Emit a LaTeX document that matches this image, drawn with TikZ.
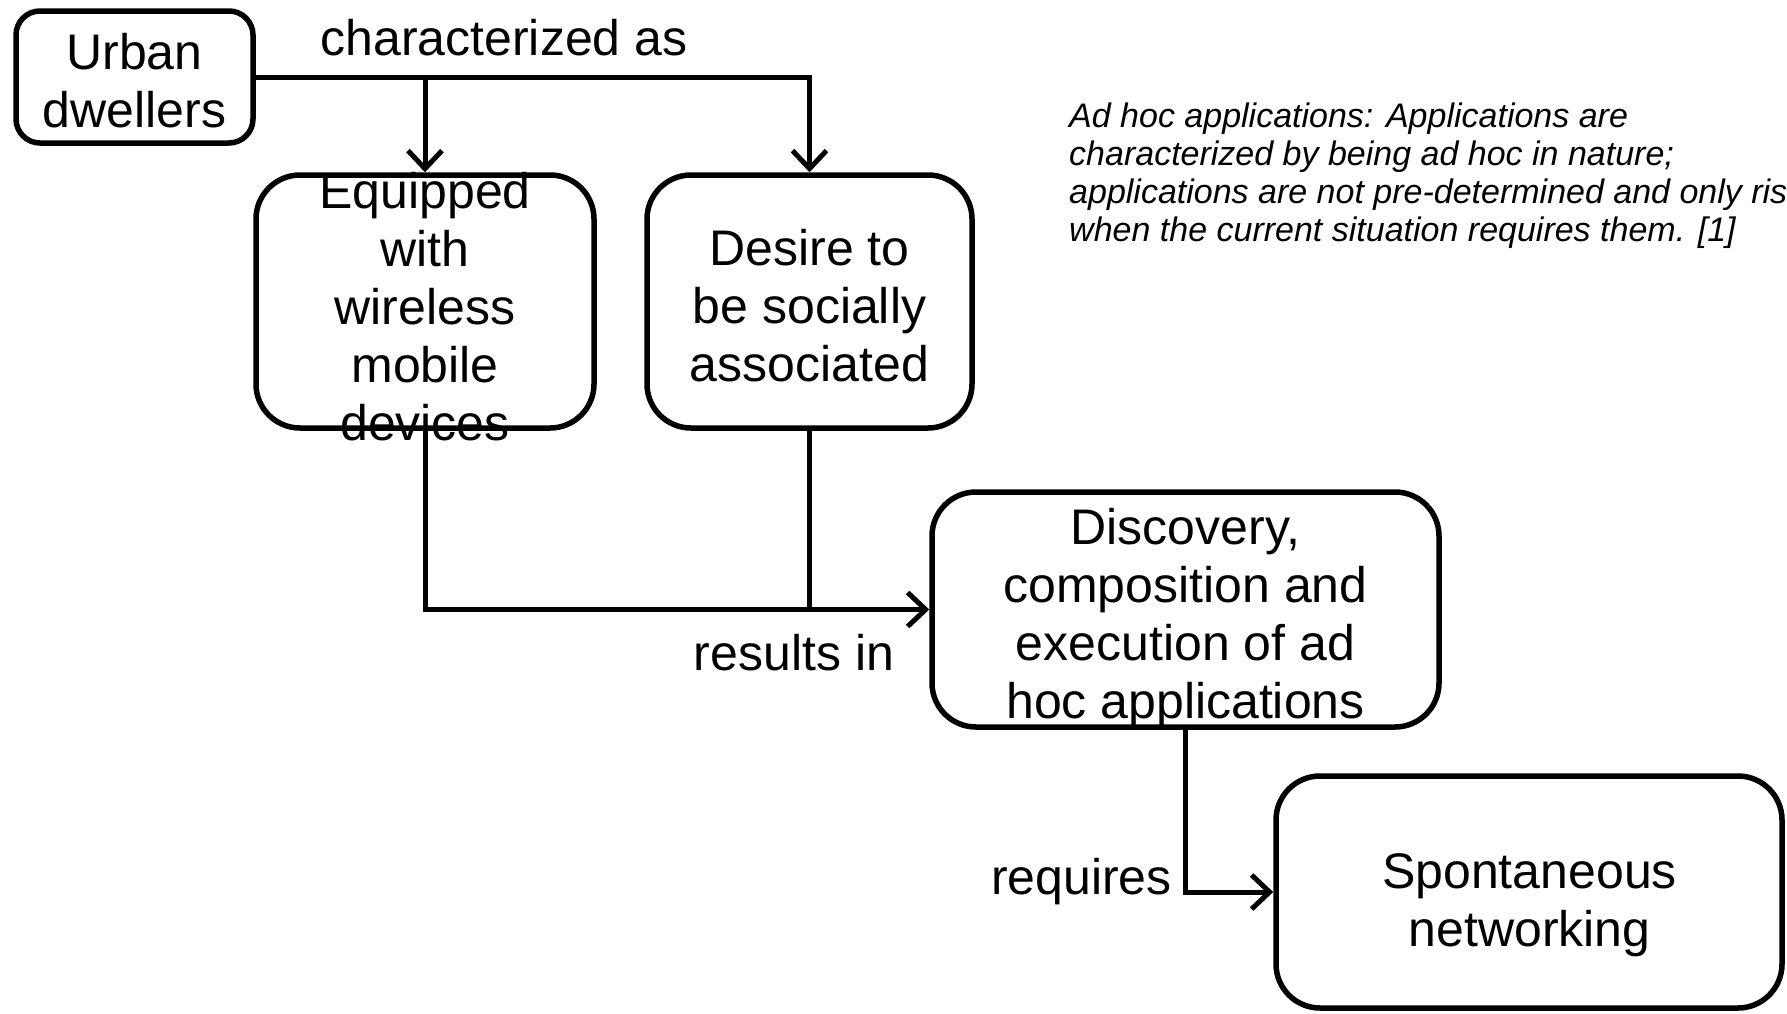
\documentclass[tikz,border=0pt]{standalone}
\usepackage{fontspec}
\setmainfont{Liberation Sans}
\usetikzlibrary{arrows.meta}
\begin{document}
\begin{tikzpicture}[x=1pt,y=-1pt,
  box/.style={draw, line width=5.5pt, rounded corners=44pt, inner sep=0pt},
  txt/.style={font=\fontsize{50}{58}\selectfont, align=center, inner sep=0pt},
  note/.style={font=\fontsize{34}{38}\selectfont\itshape, align=left, inner sep=0pt, anchor=north west},
  conn/.style={line width=5pt},
  arr/.style={conn, -{Straight Barb[length=18pt,width=34pt]}}]
\useasboundingbox (0,0) rectangle (1787,1013);
\clip (0,0) rectangle (1787,1013);
\fill[white] (0,0) rectangle (1787,1013);

% boxes
\node[box, rounded corners=24pt, minimum width=237pt, minimum height=132pt] (ur) at (134.5,77) {};
\node[box, minimum width=338pt, minimum height=253pt] (eq) at (425,301.5) {};
\node[box, minimum width=325pt, minimum height=253pt] (de) at (809.5,301.5) {};
\node[box, minimum width=507pt, minimum height=235pt] (di) at (1185.5,609.5) {};
\node[box, minimum width=506pt, minimum height=232pt] (sp) at (1529,892) {};

% box texts
\node[txt] (urt) at (134.5,81) {Urban\\dwellers};
\node[txt] (eqt) at (425,307) {Equipped\\with\\wireless\\mobile\\devices};
\node[txt] (det) at (809.5,306) {Desire to\\be socially\\associated};
\node[txt] (dit) at (1185.5,619) {Discovery,\\composition and\\execution of ad\\hoc applications};
\node[txt] (spt) at (1529.5,905) {Spontaneous\\networking};

% connector labels
\node[txt, anchor=base] (l1) at (504,55) {characterized as};
\node[txt, anchor=base] (l2) at (794,670) {results in};
\node[txt, anchor=base east] (l3) at (1172,894) {requires};

% side note
\node[note] (nt) at (1069,103) {Ad hoc applications: Applications are\\characterized by being ad hoc in nature;\\applications are not pre-determined and only rise\\when the current situation requires them. [1]};

% connectors
\draw[arr] (ur.east) -| (de.north);
\draw[arr] (ur.east -| eq.north) -- (eq.north);
\draw[arr] (eq.south) |- (di.west);
\draw[conn] (de.south) -- (de.south |- di.west);
\draw[arr] (di.south) |- (sp.west);
\end{tikzpicture}
\end{document}
